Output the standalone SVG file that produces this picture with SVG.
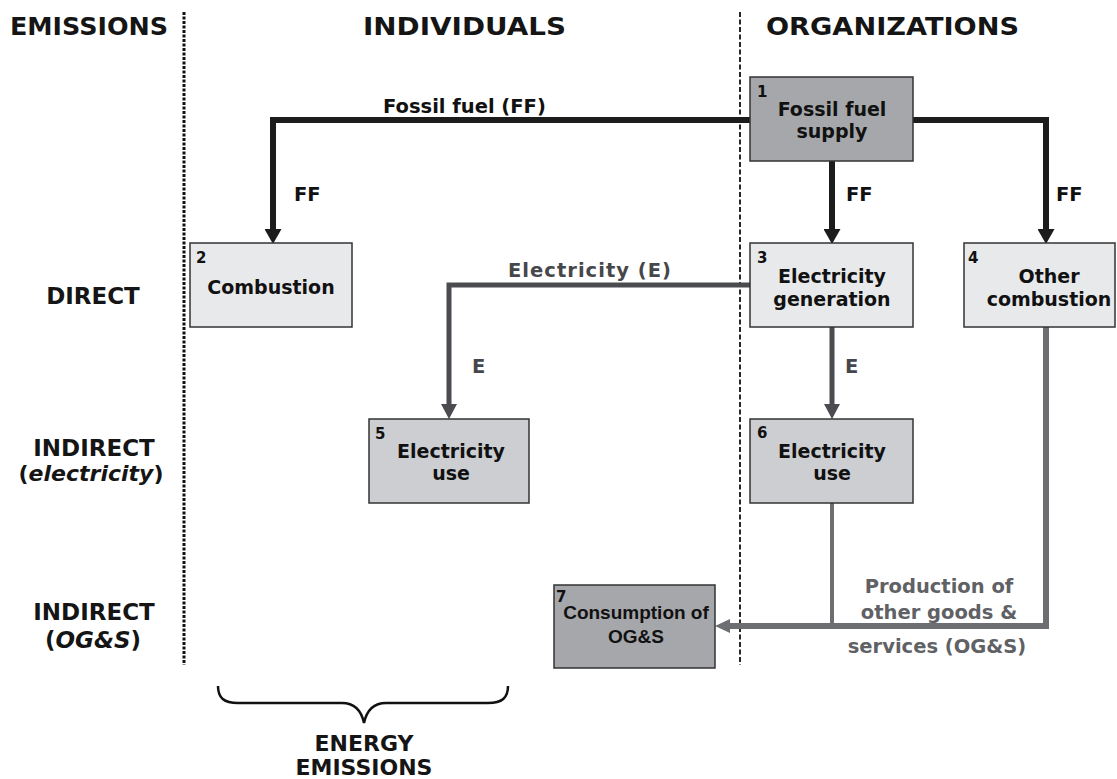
<svg xmlns="http://www.w3.org/2000/svg" width="1117" height="779" viewBox="0 0 1117 779">
<defs>
<style>
text{font-family:"DejaVu Sans","Verdana",sans-serif;font-weight:bold;}
.hdr{font-size:25px;fill:#151515;}
.row{font-size:23px;fill:#151515;text-anchor:middle;}
.nt{font-size:19px;fill:#111;text-anchor:middle;}
.num{font-size:15px;fill:#111;}
.lblk{font-size:19.5px;fill:#111;}
.lel{font-size:19.5px;fill:#45474a;}
.log{font-size:19.5px;fill:#5f6164;text-anchor:middle;}
.box{stroke:#333;stroke-width:1.5;}
.dark{fill:#a5a7aa;}
.light{fill:#e8e9eb;}
.mid{fill:#cdced1;}
.ff{fill:none;stroke:#1c1c1c;stroke-width:6;}
.el{fill:none;stroke:#4a4c4f;stroke-width:5;}
.og{fill:none;stroke:#6c6e71;stroke-width:6;}
.og2{fill:none;stroke:#6c6e71;stroke-width:4;}
.ar{font-family:"Liberation Sans",Arial,sans-serif;font-size:19px;fill:#111;text-anchor:middle;}
</style>
<marker id="aFF" markerUnits="userSpaceOnUse" markerWidth="15" markerHeight="17" refX="0" refY="8.5" orient="auto"><path d="M0,0 L15,8.5 L0,17 Z" fill="#1c1c1c"/></marker>
<marker id="aEL" markerUnits="userSpaceOnUse" markerWidth="15" markerHeight="16" refX="0" refY="8" orient="auto"><path d="M0,0 L15,8 L0,16 Z" fill="#4a4c4f"/></marker>
<marker id="aOG" markerUnits="userSpaceOnUse" markerWidth="15" markerHeight="14" refX="0" refY="7" orient="auto"><path d="M0,0 L15,7 L0,14 Z" fill="#6c6e71"/></marker>
</defs>
<rect width="1117" height="779" fill="#fff"/>

<g id="headers">
<text class="hdr" x="10" y="35" textLength="158" lengthAdjust="spacingAndGlyphs">EMISSIONS</text>
<text class="hdr" x="363" y="35" textLength="203" lengthAdjust="spacingAndGlyphs">INDIVIDUALS</text>
<text class="hdr" x="766" y="35" textLength="253" lengthAdjust="spacingAndGlyphs">ORGANIZATIONS</text>
</g>

<g id="dividers">
<line x1="184" y1="12" x2="184" y2="665" stroke="#111" stroke-width="3" stroke-dasharray="3 1.5"/>
<line x1="740" y1="12" x2="740" y2="665" stroke="#111" stroke-width="1.8" stroke-dasharray="5 2.5"/>
</g>

<g id="rows">
<text class="row" x="93" y="304">DIRECT</text>
<text class="row" x="94" y="456">INDIRECT</text>
<text class="row" x="91" y="481" style="font-size:22px">(<tspan font-style="italic">electricity</tspan>)</text>
<text class="row" x="94" y="620">INDIRECT</text>
<text class="row" x="93" y="648">(<tspan font-style="italic">OG&amp;S</tspan>)</text>
</g>

<g id="connectors">
<path class="ff" d="M750,120 H273 V229" marker-end="url(#aFF)"/>
<path class="ff" d="M913,120 H1046 V229" marker-end="url(#aFF)"/>
<path class="ff" d="M832,161 V229" marker-end="url(#aFF)"/>
<path class="el" d="M750,285 H449 V404" marker-end="url(#aEL)"/>
<path class="el" d="M832,327 V404" marker-end="url(#aEL)"/>
<path class="og" d="M1046,327 V626 H730" marker-end="url(#aOG)"/>
<path class="og2" d="M832,503 V624"/>
<text class="lblk" x="383" y="113">Fossil fuel (FF)</text>
<text class="lblk" x="294" y="201">FF</text>
<text class="lblk" x="846" y="201">FF</text>
<text class="lblk" x="1056" y="201">FF</text>
<text class="lel" x="508" y="277" textLength="163" lengthAdjust="spacing">Electricity (E)</text>
<text class="lel" x="472" y="373">E</text>
<text class="lel" x="845" y="373">E</text>
<text class="log" x="939" y="593">Production of</text>
<text class="log" x="939" y="619">other goods &amp;</text>
<text class="log" x="937" y="653">services (OG&amp;S)</text>
</g>

<g id="n1">
<rect class="box dark" x="750" y="77" width="163" height="84"/>
<text class="num" x="757" y="97">1</text>
<text class="nt" x="832" y="116">Fossil fuel</text>
<text class="nt" x="832" y="138">supply</text>
</g>
<g id="n2">
<rect class="box light" x="190" y="243" width="162" height="84"/>
<text class="num" x="196" y="263">2</text>
<text class="nt" x="271" y="294">Combustion</text>
</g>
<g id="n3">
<rect class="box light" x="750" y="243" width="163" height="84"/>
<text class="num" x="757" y="263">3</text>
<text class="nt" x="832" y="283">Electricity</text>
<text class="nt" x="832" y="306">generation</text>
</g>
<g id="n4">
<rect class="box light" x="964" y="243" width="151" height="84"/>
<text class="num" x="968" y="263">4</text>
<text class="nt" x="1049" y="283">Other</text>
<text class="nt" x="1049" y="306">combustion</text>
</g>
<g id="n5">
<rect class="box mid" x="369" y="419" width="160" height="84"/>
<text class="num" x="375" y="439">5</text>
<text class="nt" x="451" y="458">Electricity</text>
<text class="nt" x="451" y="480">use</text>
</g>
<g id="n6">
<rect class="box mid" x="750" y="419" width="163" height="84"/>
<text class="num" x="757" y="438">6</text>
<text class="nt" x="832" y="458">Electricity</text>
<text class="nt" x="832" y="480">use</text>
</g>
<g id="n7">
<rect class="box dark" x="554" y="585" width="161" height="83"/>
<text class="num" x="556" y="602">7</text>
<text class="ar" x="636" y="619">Consumption of</text>
<text class="ar" x="636" y="643">OG&amp;S</text>
</g>

<g id="brace">
<path d="M218,686 C218,698 224,703 238,703 L342,703 C354,703 361,709 364,723 C367,709 374,703 386,703 L488,703 C502,703 508,698 508,686" fill="none" stroke="#111" stroke-width="2.5"/>
<text class="row" x="364" y="751" style="font-size:22px">ENERGY</text>
<text class="row" x="364" y="775" style="font-size:22px">EMISSIONS</text>
</g>
</svg>
